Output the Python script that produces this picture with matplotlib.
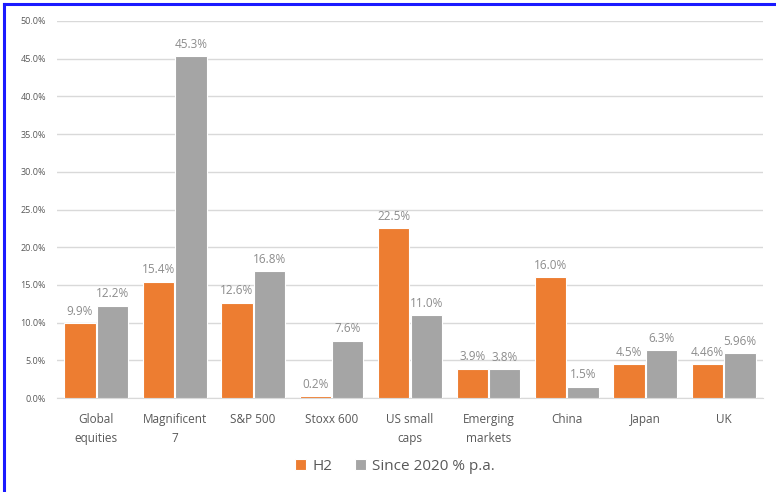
import matplotlib
matplotlib.use("Agg")
import matplotlib.pyplot as plt
from matplotlib import font_manager
import numpy as np

categories = ["Global\nequities", "Magnificent\n7", "S&P 500", "Stoxx 600", "US small\ncaps",
              "Emerging\nmarkets", "China", "Japan", "UK"]
h2 = [9.9, 15.4, 12.6, 0.2, 22.5, 3.9, 16.0, 4.5, 4.46]
since2020 = [12.2, 45.3, 16.8, 7.6, 11.0, 3.8, 1.5, 6.3, 5.96]
h2_labels = ["9.9%", "15.4%", "12.6%", "0.2%", "22.5%", "3.9%", "16.0%", "4.5%", "4.46%"]
since_labels = ["12.2%", "45.3%", "16.8%", "7.6%", "11.0%", "3.8%", "1.5%", "6.3%", "5.96%"]
yticks = [0, 5, 10, 15, 20, 25, 30, 35, 40, 45, 50]
series_names = ["H2", "Since 2020 % p.a."]

avail = {f.name for f in font_manager.fontManager.ttflist}
fam = "Liberation Sans Narrow" if "Liberation Sans Narrow" in avail else "Open Sans"
plt.rcParams['font.family'] = [fam, 'DejaVu Sans']

ORANGE = "#ED7D31"
GRAY = "#A5A5A5"

fig = plt.figure(figsize=(7.76, 4.92), dpi=100)
ax = fig.add_axes([57/776, 1-398/492, (763-57)/776, (398-21)/492])

x = np.arange(len(categories))
w = 0.4
off = 0.207
b1 = ax.bar(x - off, h2, w, color=ORANGE, edgecolor="white", linewidth=0.8, label=series_names[0], zorder=3)
b2 = ax.bar(x + off, since2020, w, color=GRAY, edgecolor="white", linewidth=0.8, label=series_names[1], zorder=3)

for bars, labs in ((b1, h2_labels), (b2, since_labels)):
    for r, t in zip(bars, labs):
        ax.annotate(t, (r.get_x() + r.get_width()/2, r.get_height()), xytext=(0, 4),
                    textcoords="offset points", ha="center", va="bottom",
                    fontsize=8.5, color="#8c8c8c")

ax.set_xlim(-0.5, len(categories) - 0.5)
ax.set_ylim(0, 50)
ax.set_yticks(yticks)
ax.set_yticklabels([f"{v:.1f}%" for v in yticks], fontsize=6.5, color="#595959")
ax.set_xticks(x)
ax.set_xticklabels(categories, fontsize=8.5, color="#595959", linespacing=1.6)
ax.tick_params(axis="both", length=0)
ax.tick_params(axis="x", pad=11)
ax.tick_params(axis="y", pad=8)
ax.grid(axis="y", color="#d9d9d9", linewidth=1, zorder=0)
for s in ("top", "right", "left"):
    ax.spines[s].set_visible(False)
ax.spines["bottom"].set_color("#d9d9d9")

leg = fig.legend(loc="center", bbox_to_anchor=(395/776, 1-466/492), ncol=2, frameon=False,
                 fontsize=11, handlelength=0.7, handleheight=0.7, handletextpad=0.4,
                 columnspacing=1.5, labelcolor="#595959")

# blue border (left and top)
fig.add_artist(plt.Line2D([4/776, 4/776], [0, 1-4/492], color="#1a1aff", linewidth=2.2, transform=fig.transFigure))
fig.add_artist(plt.Line2D([4/776, 1], [1-4/492, 1-4/492], color="#1a1aff", linewidth=2.2, transform=fig.transFigure))

fig.savefig("out.png", dpi=100)
